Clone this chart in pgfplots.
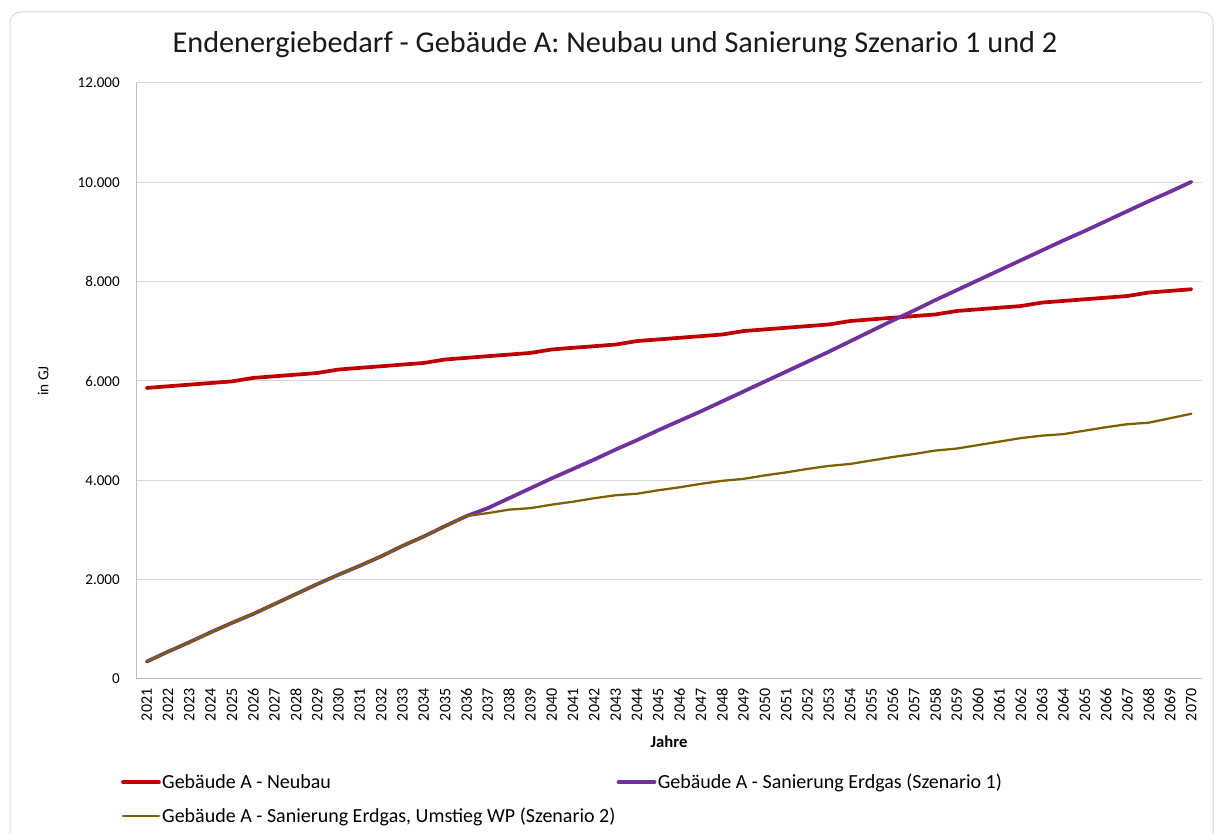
\documentclass[border=0pt]{standalone}
\usepackage{fontspec}
\setmainfont{Carlito}
\usepackage{pgfplots}
\pgfplotsset{compat=1.18}

\definecolor{neubau}{HTML}{C00000}
\definecolor{szenA}{HTML}{7030A0}
\definecolor{szenB}{HTML}{7F6000}
\definecolor{gridgray}{HTML}{D9D9D9}
\definecolor{axisgray}{HTML}{BFBFBF}

\begin{document}
\begin{tikzpicture}
% 1 px of the reference = 0.75pt
\clip (0pt,0pt) rectangle (914.25pt,625.5pt);
% chart frame (Excel chart area)
\draw[gridgray, line width=0.75pt, rounded corners=8pt] (7.5pt,616.5pt) rectangle (909.75pt,-22.5pt);
\node[font=\fontsize{22.7}{27}\selectfont, text=black!90] at (461.25pt,591.75pt)
  {Endenergiebedarf - Gebäude A: Neubau und Sanierung Szenario 1 und 2};

\begin{axis}[
    at={(102pt,116.25pt)}, anchor=south west,
    scale only axis,
    width=799.5pt, height=447pt,
    xmin=2020.5, xmax=2070.5,
    ymin=0, ymax=12000,
    xtick={2021,...,2070},
    ytick={0,2000,...,12000},
    scaled y ticks=false,
    axis x line=bottom, axis y line=left,
    axis line style={-, draw=axisgray, line width=0.75pt},
    major tick length=0pt,
    ymajorgrids=true,
    grid style={draw=gridgray, line width=0.75pt},
    /pgf/number format/assume math mode=true,
    xticklabel style={rotate=90, anchor=east, inner sep=0pt,
        font=\fontsize{12}{14}\selectfont,
        /pgf/number format/1000 sep={}},
    xticklabel shift=7pt,
    yticklabel style={anchor=east, inner sep=0pt,
        font=\fontsize{11.3}{13}\selectfont,
        /pgf/number format/.cd, fixed, precision=0, 1000 sep={.}},
    yticklabel shift=12pt,
    xlabel={\bfseries Jahre},
    xlabel style={font=\fontsize{12.5}{15}\selectfont, at={(0.5,0)}, anchor=north, yshift=-39pt},
    ylabel={in GJ},
    ylabel style={font=\fontsize{11.5}{14}\selectfont, at={(-0.087,0.5)}, anchor=center},
    legend columns=2,
    legend cell align=left,
    legend style={at={(-0.018,-0.152)}, anchor=north west, draw=none, fill=none,
        font=\fontsize{15}{18}\selectfont,
        nodes={inner sep=1pt},
        row sep=11pt,
        /tikz/every even column/.append style={column sep=0pt}},
    legend image code/.code={\draw[#1] (0pt,0pt) -- (27pt,0pt);},
    every axis plot/.append style={line join=round, line cap=round},
]

\addplot[neubau, line width=2.8pt] coordinates {
(2021,5860) (2022,5893) (2023,5926) (2024,5959) (2025,5992)
(2026,6062) (2027,6095) (2028,6128) (2029,6161) (2030,6231)
(2031,6264) (2032,6297) (2033,6330) (2034,6363) (2035,6433)
(2036,6466) (2037,6499) (2038,6532) (2039,6565) (2040,6635)
(2041,6668) (2042,6701) (2043,6734) (2044,6804) (2045,6837)
(2046,6870) (2047,6903) (2048,6936) (2049,7006) (2050,7039)
(2051,7072) (2052,7105) (2053,7138) (2054,7208) (2055,7241)
(2056,7274) (2057,7307) (2058,7340) (2059,7410) (2060,7443)
(2061,7476) (2062,7509) (2063,7579) (2064,7612) (2065,7645)
(2066,7678) (2067,7711) (2068,7781) (2069,7814) (2070,7847)
};
\addlegendentry{Gebäude A - Neubau}

\addplot[szenA, line width=2.8pt] coordinates {
(2021,350) (2022,550) (2023,740) (2024,940) (2025,1130)
(2026,1310) (2027,1510) (2028,1710) (2029,1910) (2030,2100)
(2031,2280) (2032,2470) (2033,2680) (2034,2870) (2035,3080)
(2036,3280) (2037,3440) (2038,3640) (2039,3840) (2040,4040)
(2041,4230) (2042,4420) (2043,4620) (2044,4810) (2045,5010)
(2046,5200) (2047,5390) (2048,5590) (2049,5790) (2050,5990)
(2051,6190) (2052,6390) (2053,6590) (2054,6800) (2055,7010)
(2056,7220) (2057,7420) (2058,7630) (2059,7830) (2060,8030)
(2061,8230) (2062,8430) (2063,8630) (2064,8830) (2065,9020)
(2066,9220) (2067,9420) (2068,9620) (2069,9810) (2070,10010)
};
\addlegendentry{Gebäude A - Sanierung Erdgas (Szenario 1)}

\addplot[szenB, line width=1.7pt] coordinates {
(2021,350) (2022,550) (2023,740) (2024,940) (2025,1130)
(2026,1310) (2027,1510) (2028,1710) (2029,1910) (2030,2100)
(2031,2280) (2032,2470) (2033,2680) (2034,2870) (2035,3080)
(2036,3280) (2037,3340) (2038,3410) (2039,3440) (2040,3510)
(2041,3570) (2042,3640) (2043,3700) (2044,3730) (2045,3800)
(2046,3860) (2047,3930) (2048,3990) (2049,4030) (2050,4100)
(2051,4160) (2052,4230) (2053,4290) (2054,4330) (2055,4400)
(2056,4470) (2057,4530) (2058,4600) (2059,4640) (2060,4710)
(2061,4780) (2062,4850) (2063,4900) (2064,4930) (2065,5000)
(2066,5070) (2067,5130) (2068,5160) (2069,5250) (2070,5340)
};
\addlegendentry{Gebäude A - Sanierung Erdgas, Umstieg WP (Szenario 2)}

\end{axis}
\end{tikzpicture}
\end{document}
